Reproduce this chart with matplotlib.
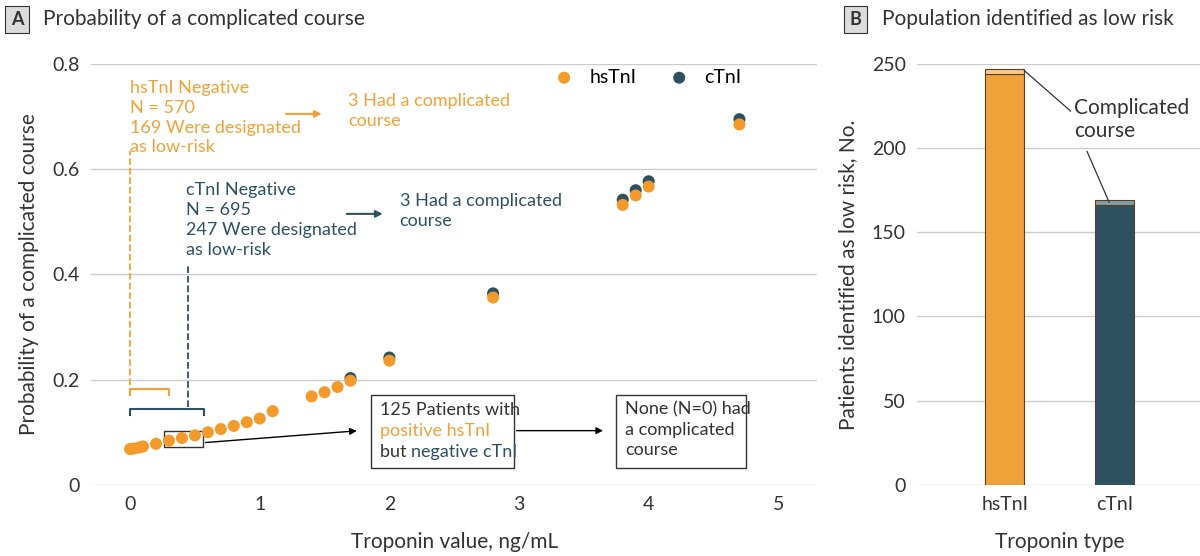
import numpy as np
from matplotlib import pyplot as plt

ORANGE = '#f0a23a'
DOT_OR = '#f39a2a'
TEAL = '#2d5160'
GRAY = '#333333'

hs_x = [0, 0.03, 0.07, 0.1, 0.2, 0.3, 0.4, 0.5, 0.6, 0.7, 0.8, 0.9, 1.0, 1.1,
        1.4, 1.5, 1.6, 1.7, 2.0, 2.8, 3.8, 3.9, 4.0, 4.7]
hs_y = [0.068, 0.069, 0.071, 0.073, 0.078, 0.084, 0.089, 0.094, 0.100, 0.106, 0.112, 0.119, 0.126, 0.140,
        0.168, 0.176, 0.186, 0.198, 0.236, 0.356, 0.532, 0.550, 0.567, 0.685]
c_x = [1.7, 2.0, 2.8, 3.8, 3.9, 4.0, 4.7]
c_y = [0.203, 0.242, 0.364, 0.542, 0.560, 0.577, 0.695]

types = ['hsTnI', 'cTnI']
low_risk = [244, 166]
complicated = [3, 3]

fig = plt.figure(figsize=(12, 5.56), dpi=100)
plt.rcParams['font.family'] = ['Lato', 'DejaVu Sans']

ax = fig.add_axes([0.076, 0.128, 0.605, 0.757])
ax.scatter(c_x, c_y, s=75, color=TEAL, zorder=3, label='cTnI', edgecolor='none')
ax.scatter(hs_x, hs_y, s=75, color=DOT_OR, zorder=4, label='hsTnI', edgecolor='none')
ax.set_xlim(-0.3, 5.3)
ax.set_ylim(0, 0.8)
ax.set_xticks([0, 1, 2, 3, 4, 5])
ax.set_yticks([0, 0.2, 0.4, 0.6, 0.8])
ax.set_yticklabels(['0', '0.2', '0.4', '0.6', '0.8'])
ax.grid(axis='y', color='#cccccc', lw=1)
ax.set_axisbelow(True)
for s in ax.spines.values():
    s.set_visible(False)
ax.tick_params(length=0, labelsize=14, colors=GRAY, pad=8)
ax.set_xlabel('Troponin value, ng/mL', fontsize=15, color=GRAY, labelpad=14)
ax.set_ylabel('Probability of a complicated course', fontsize=15, color=GRAY, labelpad=10)
h, l = ax.get_legend_handles_labels()
ax.legend(h[::-1], l[::-1], loc='upper right', ncol=2, fontsize=14, frameon=False,
          handletextpad=0.3, columnspacing=1.2, bbox_to_anchor=(0.92, 1.03))

# annotations
ax.text(0.0, 0.77, 'hsTnI Negative\nN = 570\n169 Were designated\nas low-risk', color=ORANGE,
        fontsize=13, va='top', linespacing=1.3)
ax.annotate('', xy=(1.5, 0.705), xytext=(1.18, 0.705),
            arrowprops=dict(arrowstyle='-|>', color=ORANGE, lw=1.5))
ax.text(1.68, 0.745, '3 Had a complicated\ncourse', color=ORANGE, fontsize=13, va='top', linespacing=1.3)
ax.text(0.43, 0.575, 'cTnI Negative\nN = 695\n247 Were designated\nas low-risk', color=TEAL,
        fontsize=13, va='top', linespacing=1.3)
ax.annotate('', xy=(1.97, 0.515), xytext=(1.65, 0.515),
            arrowprops=dict(arrowstyle='-|>', color=TEAL, lw=1.5))
ax.text(2.08, 0.555, '3 Had a complicated\ncourse', color=TEAL, fontsize=13, va='top', linespacing=1.3)
ax.plot([0, 0], [0.19, 0.635], ls='--', color=ORANGE, lw=1.3)
ax.plot([0.45, 0.45], [0.148, 0.42], ls='--', color=TEAL, lw=1.3)
ax.plot([0, 0, 0.3, 0.3], [0.17, 0.182, 0.182, 0.17], color=ORANGE, lw=1.5)
ax.plot([0, 0, 0.57, 0.57], [0.133, 0.145, 0.145, 0.133], color=TEAL, lw=1.5)
ax.add_patch(plt.Rectangle((0.26, 0.072), 0.3, 0.03, fill=False, ec=GRAY, lw=1))
ax.annotate('', xy=(1.77, 0.103), xytext=(0.56, 0.08),
            arrowprops=dict(arrowstyle='-|>', color='black', lw=1))
ax.add_patch(plt.Rectangle((1.86, 0.032), 1.1, 0.138, fill=True, fc='white', ec=GRAY, lw=1, zorder=5))
ax.text(1.93, 0.158, '125 Patients with', fontsize=13, va='top', color=GRAY, zorder=6)
ax.text(1.93, 0.117, 'positive hsTnI', fontsize=13, va='top', color=ORANGE, zorder=6)
ax.text(1.93, 0.078, 'but ', fontsize=13, va='top', color=GRAY, zorder=6)
ax.text(2.17, 0.078, 'negative cTnI', fontsize=13, va='top', color=TEAL, zorder=6)
ax.annotate('', xy=(3.67, 0.103), xytext=(2.96, 0.103),
            arrowprops=dict(arrowstyle='-|>', color='black', lw=1))
ax.add_patch(plt.Rectangle((3.75, 0.032), 1.0, 0.138, fill=True, fc='white', ec=GRAY, lw=1, zorder=5))
ax.text(3.82, 0.158, 'None (N=0) had\na complicated\ncourse', fontsize=13, va='top', color=GRAY,
        zorder=6, linespacing=1.3)

fig.text(0.009, 0.965, 'A', fontsize=13, color=GRAY, va='center', fontweight='bold',
         bbox=dict(boxstyle='square,pad=0.3', fc='#dcdcdc', ec=GRAY, lw=0.8))
fig.text(0.036, 0.965, 'Probability of a complicated course', fontsize=15, color=GRAY, va='center')
fig.text(0.708, 0.965, 'B', fontsize=13, color=GRAY, va='center', fontweight='bold',
         bbox=dict(boxstyle='square,pad=0.3', fc='#dcdcdc', ec=GRAY, lw=0.8))
fig.text(0.735, 0.965, 'Population identified as low risk', fontsize=15, color=GRAY, va='center')

bx = fig.add_axes([0.764, 0.128, 0.238, 0.757])
pos = np.arange(len(types))
bx.bar(pos, low_risk, width=0.36, color=[ORANGE, TEAL], edgecolor='#5a4020', lw=0.8)
bx.bar(pos, complicated, bottom=low_risk, width=0.36, color=['#f7c98a', '#7f9dab'],
       edgecolor='#5a4020', lw=0.8)
bx.set_xlim(-0.8, 1.8)
bx.set_ylim(0, 250)
bx.set_xticks(pos)
bx.set_xticklabels(types)
bx.set_yticks(range(0, 251, 50))
bx.grid(axis='y', color='#cccccc', lw=1)
bx.set_axisbelow(True)
for s in bx.spines.values():
    s.set_visible(False)
bx.tick_params(length=0, labelsize=14, colors=GRAY, pad=8)
bx.set_xlabel('Troponin type', fontsize=15, color=GRAY, labelpad=14)
bx.set_ylabel('Patients identified as low risk, No.', fontsize=15, color=GRAY, labelpad=10)
bx.text(0.63, 230, 'Complicated\ncourse', fontsize=15, color=GRAY, va='top', linespacing=1.2)
bx.plot([0.18, 0.6], [246, 222], color=GRAY, lw=0.9)
bx.plot([0.75, 0.95], [198, 168], color=GRAY, lw=0.9)

fig.savefig('out.png', dpi=100)
